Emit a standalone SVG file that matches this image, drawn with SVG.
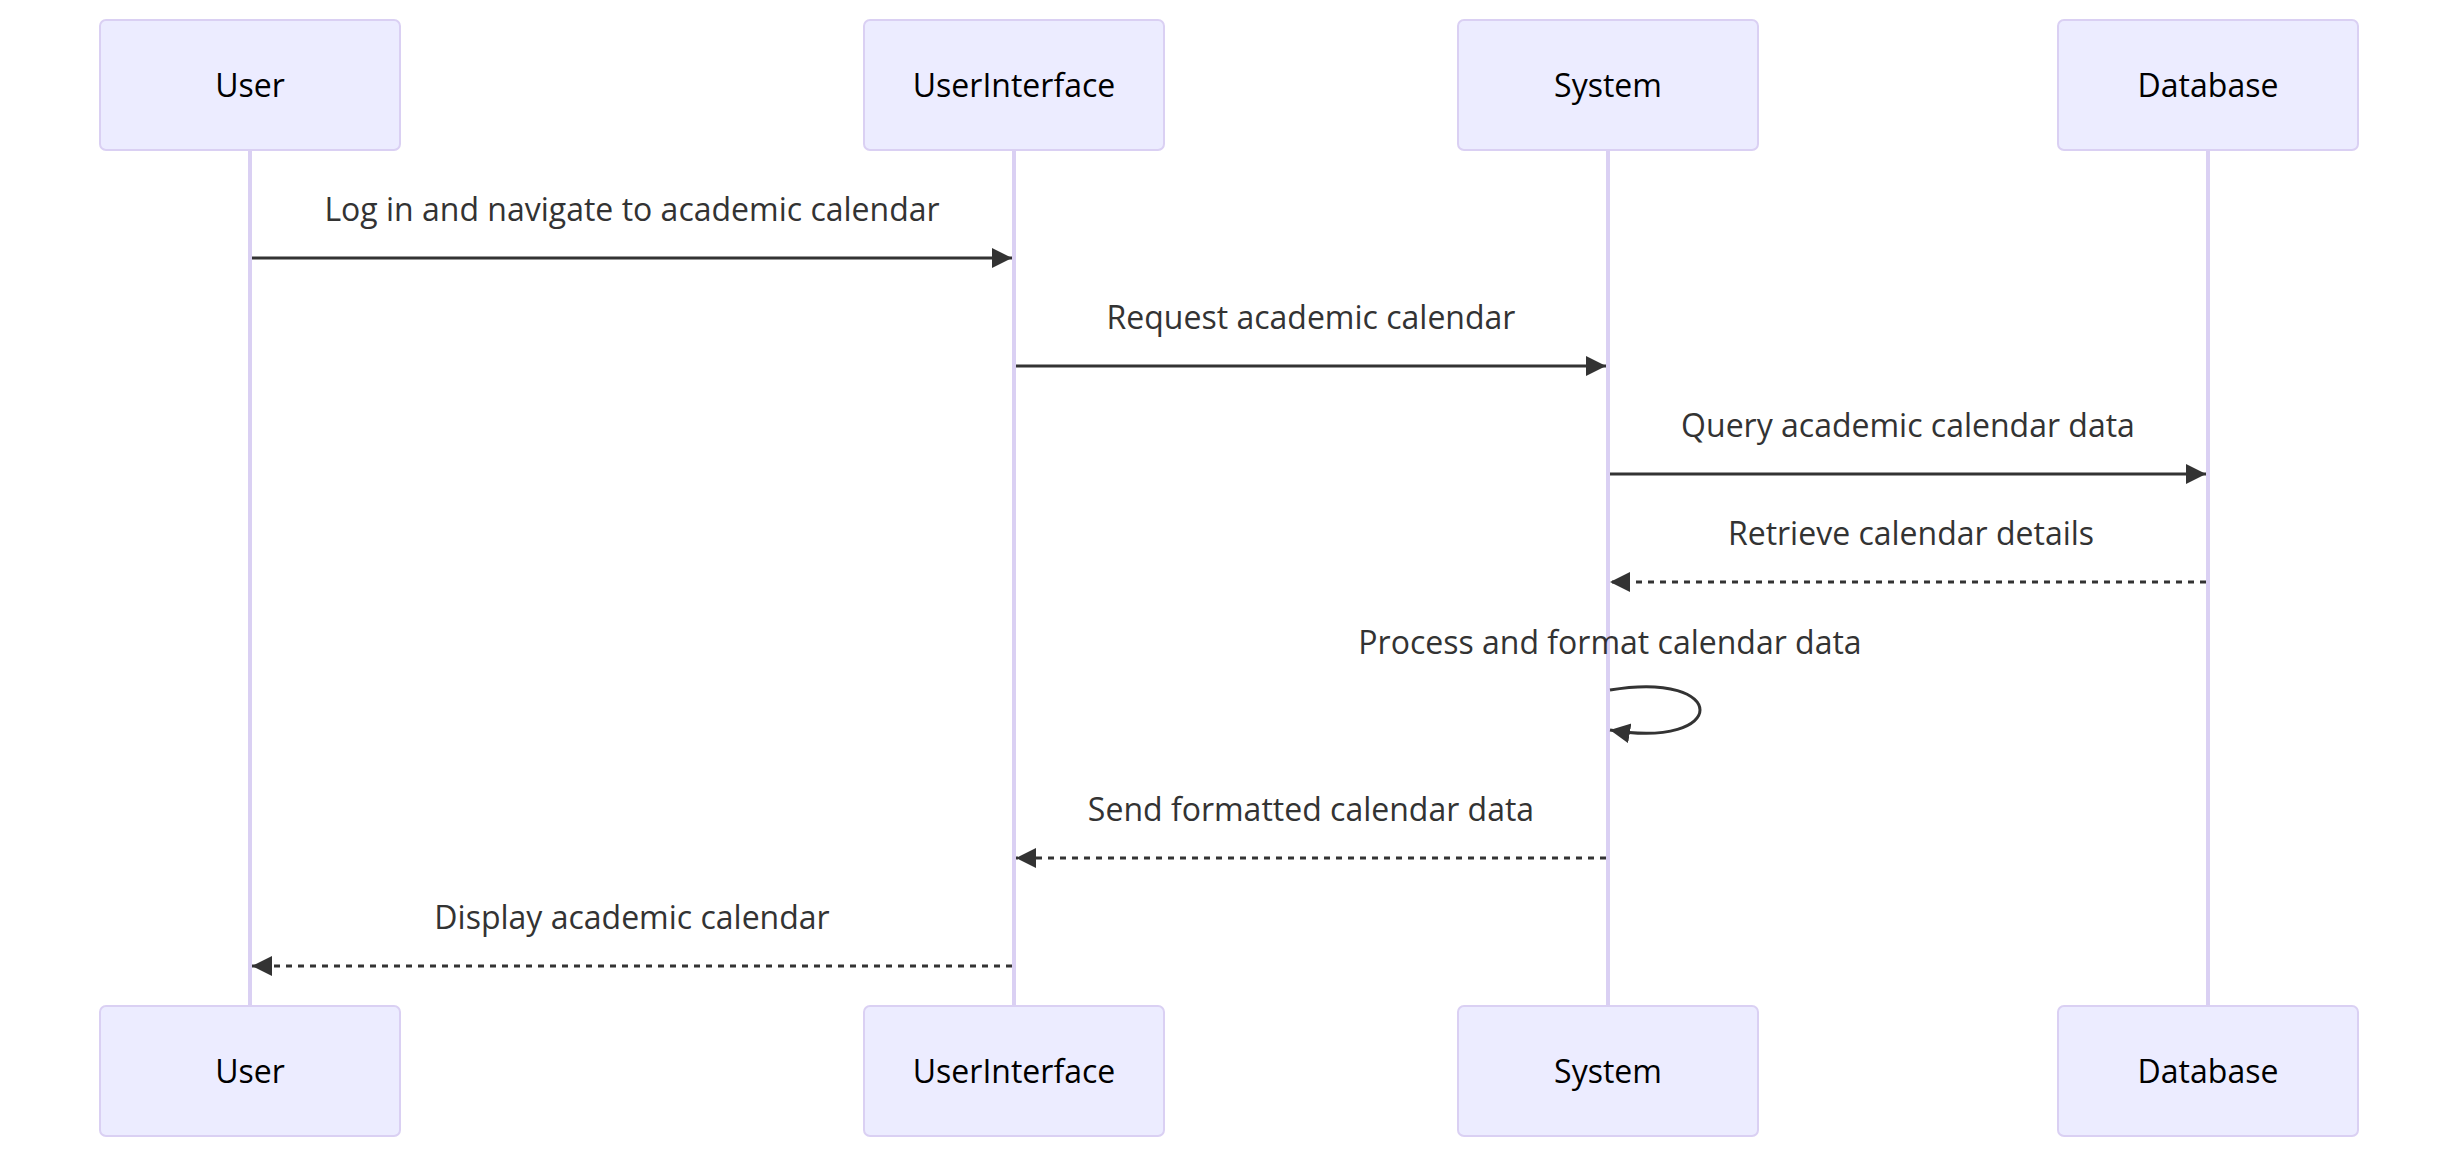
<svg xmlns="http://www.w3.org/2000/svg" width="2458" height="1158" viewBox="0 0 2458 1158">
<style>
.actor{fill:#ECECFF;stroke:#DAD0F3;stroke-width:2}
.actor-text{font-family:"Open Sans","Noto Sans","DejaVu Sans",sans-serif;font-size:32px;fill:#000;text-anchor:middle}
.lifeline{stroke:#DAD0F3;stroke-width:4}
.msg{stroke:#333;stroke-width:3;fill:none}
.dashed{stroke-dasharray:6,6}
.msg-text{font-family:"Open Sans","Noto Sans","DejaVu Sans",sans-serif;font-size:32px;fill:#333;text-anchor:middle}
</style>
<defs>
<marker id="arrowhead" markerUnits="userSpaceOnUse" markerWidth="22" markerHeight="22" refX="20" refY="10" orient="auto">
<path d="M0,0 L20,10 L0,20 z" fill="#333"/>
</marker>
</defs>
<rect width="2458" height="1158" fill="#fff"/>
<g id="lifelines">
<line class="lifeline" x1="250" y1="150" x2="250" y2="1006"/>
<line class="lifeline" x1="1014" y1="150" x2="1014" y2="1006"/>
<line class="lifeline" x1="1608" y1="150" x2="1608" y2="1006"/>
<line class="lifeline" x1="2208" y1="150" x2="2208" y2="1006"/>
</g>
<g id="actor-user-top"><rect class="actor" x="100" y="20" width="300" height="130" rx="6"/><text class="actor-text" x="250" y="97">User</text></g>
<g id="actor-ui-top"><rect class="actor" x="864" y="20" width="300" height="130" rx="6"/><text class="actor-text" x="1014" y="97">UserInterface</text></g>
<g id="actor-system-top"><rect class="actor" x="1458" y="20" width="300" height="130" rx="6"/><text class="actor-text" x="1608" y="97">System</text></g>
<g id="actor-db-top"><rect class="actor" x="2058" y="20" width="300" height="130" rx="6"/><text class="actor-text" x="2208" y="97">Database</text></g>
<g id="actor-user-bottom"><rect class="actor" x="100" y="1006" width="300" height="130" rx="6"/><text class="actor-text" x="250" y="1083">User</text></g>
<g id="actor-ui-bottom"><rect class="actor" x="864" y="1006" width="300" height="130" rx="6"/><text class="actor-text" x="1014" y="1083">UserInterface</text></g>
<g id="actor-system-bottom"><rect class="actor" x="1458" y="1006" width="300" height="130" rx="6"/><text class="actor-text" x="1608" y="1083">System</text></g>
<g id="actor-db-bottom"><rect class="actor" x="2058" y="1006" width="300" height="130" rx="6"/><text class="actor-text" x="2208" y="1083">Database</text></g>
<g id="connectors">
<line class="msg" x1="252" y1="258" x2="1012" y2="258" marker-end="url(#arrowhead)"/>
<text class="msg-text" x="632" y="221">Log in and navigate to academic calendar</text>
<line class="msg" x1="1016" y1="366" x2="1606" y2="366" marker-end="url(#arrowhead)"/>
<text class="msg-text" x="1311" y="329">Request academic calendar</text>
<line class="msg" x1="1610" y1="474" x2="2206" y2="474" marker-end="url(#arrowhead)"/>
<text class="msg-text" x="1908" y="437">Query academic calendar data</text>
<line class="msg dashed" x1="2206" y1="582" x2="1610" y2="582" marker-end="url(#arrowhead)"/>
<text class="msg-text" x="1911" y="545">Retrieve calendar details</text>
<path class="msg" d="M1610,690 C1730,670 1730,750 1610,730" marker-end="url(#arrowhead)"/>
<text class="msg-text" x="1610" y="654">Process and format calendar data</text>
<line class="msg dashed" x1="1606" y1="858" x2="1016" y2="858" marker-end="url(#arrowhead)"/>
<text class="msg-text" x="1311" y="821">Send formatted calendar data</text>
<line class="msg dashed" x1="1012" y1="966" x2="252" y2="966" marker-end="url(#arrowhead)"/>
<text class="msg-text" x="632" y="929">Display academic calendar</text>
</g>
</svg>
